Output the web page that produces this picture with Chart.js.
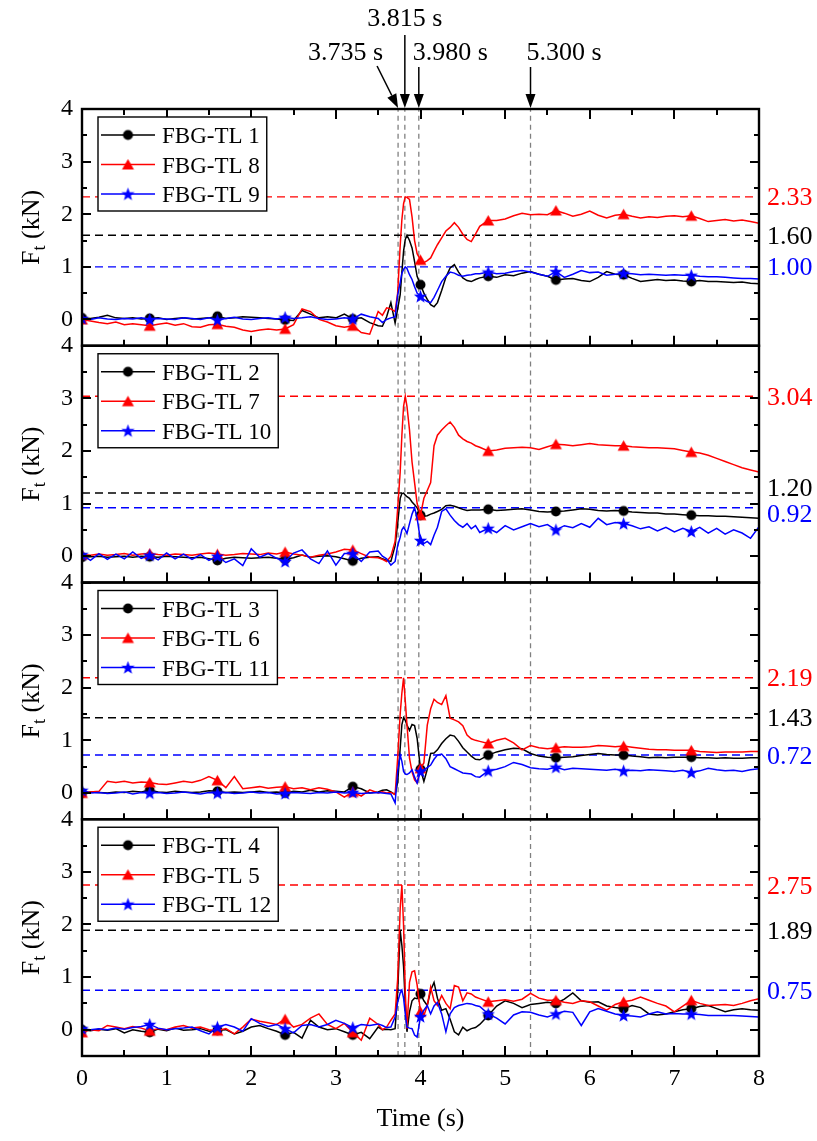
<!DOCTYPE html>
<html>
<head>
<meta charset="utf-8">
<script src="https://cdn.jsdelivr.net/npm/chart.js@4.4.1/dist/chart.umd.min.js"></script>
<style>
  html, body { margin: 0; padding: 0; background: #fff; }
  #wrap { width: 817px; height: 1141px; }
</style>
</head>
<body>
<div id="wrap"><canvas id="chart" width="817" height="1141"></canvas></div>
<script>
// time axis (s): coarse before/after the impact, finer around it
const time = [
  0.0, 0.1, 0.2, 0.3, 0.4, 0.5, 0.6, 0.7, 0.8, 0.9, 1.0, 1.1, 1.2, 1.3, 1.4, 1.5, 1.6, 1.7, 1.8, 1.9,
  2.0, 2.1, 2.2, 2.3, 2.4, 2.5, 2.6, 2.7, 2.8, 2.9, 3.0, 3.1, 3.2, 3.3, 3.4, 3.5,
  3.55, 3.6, 3.65, 3.7, 3.73, 3.76, 3.78, 3.8, 3.82, 3.84, 3.87, 3.9, 3.93, 3.96, 4.0, 4.04, 4.08, 4.12,
  4.16, 4.2, 4.25, 4.3, 4.35, 4.4, 4.45, 4.5, 4.55, 4.6, 4.65, 4.7,
  4.8, 4.9, 5.0, 5.1, 5.2, 5.3, 5.4, 5.5, 5.6, 5.7, 5.8, 5.9, 6.0, 6.1, 6.2, 6.3, 6.4, 6.5, 6.6, 6.7,
  6.8, 6.9, 7.0, 7.1, 7.2, 7.3, 7.4, 7.5, 7.6, 7.7, 7.8, 7.9, 8.0
];

// panel 1
const tl1 = [
  0.03, 0.02, 0.04, 0.08, 0.03, 0.02, 0.03, 0.01, 0.02, 0.03, 0.00, 0.02, 0.03, 0.01, 0.02, 0.03, 0.06, 0.02, 0.03, 0.05, 0.04, 0.03, 0.02, 0.01, -0.01, -0.02, 0.17, 0.10, 0.03, 0.05, 0.03, 0.10, 0.01, 0.03, -0.06, -0.12,
  -0.13, 0.05, 0.32, -0.07, 0.20, 0.47, 0.90, 1.30, 1.52, 1.60, 1.50, 1.36, 1.10, 0.82, 0.66, 0.50, 0.38, 0.28, 0.24, 0.32, 0.55, 0.80, 0.98, 1.04, 0.90, 0.79, 0.74, 0.72, 0.76, 0.79,
  0.82, 0.80, 0.85, 0.83, 0.88, 0.91, 0.86, 0.82, 0.75, 0.77, 0.78, 0.74, 0.72, 0.80, 0.91, 0.86, 0.85, 0.78, 0.72, 0.74, 0.76, 0.74, 0.75, 0.73, 0.72, 0.74, 0.72, 0.72, 0.71, 0.70, 0.71, 0.69, 0.68
];
const tl8 = [
  0.00, -0.03, -0.06, -0.08, -0.05, -0.10, -0.08, -0.10, -0.12, -0.09, -0.07, -0.11, -0.08, -0.14, -0.15, -0.10, -0.09, -0.13, -0.15, -0.20, -0.23, -0.20, -0.18, -0.20, -0.18, -0.10, 0.20, 0.15, 0.00, -0.05, -0.12, -0.15, -0.12, -0.25, -0.28, 0.15,
  0.08, 0.22, 0.20, 0.15, 0.50, 1.40, 1.90, 2.20, 2.33, 2.32, 2.28, 1.95, 1.50, 1.25, 1.13, 1.08, 1.12, 1.17, 1.30, 1.42, 1.55, 1.68, 1.75, 1.84, 1.75, 1.62, 1.52, 1.48, 1.62, 1.77,
  1.88, 1.88, 1.91, 1.97, 2.02, 1.99, 2.00, 1.99, 2.07, 2.02, 1.96, 2.00, 2.06, 1.98, 1.93, 1.98, 2.00, 1.96, 1.93, 1.95, 1.94, 1.96, 1.97, 1.95, 1.97, 1.92, 1.86, 1.88, 1.90, 1.87, 1.89, 1.86, 1.83
];
const tl9 = [
  0.02, 0.00, 0.03, 0.01, 0.00, 0.02, 0.01, 0.03, 0.00, 0.02, 0.01, 0.00, 0.03, 0.02, 0.00, 0.03, -0.01, 0.02, 0.04, 0.01, 0.00, 0.02, 0.03, 0.01, 0.04, 0.02, 0.03, 0.05, 0.02, 0.00, 0.01, 0.03, 0.01, 0.10, 0.05, 0.02,
  -0.06, 0.00, 0.03, 0.05, 0.46, 0.70, 0.88, 0.95, 1.00, 0.97, 0.85, 0.76, 0.62, 0.50, 0.44, 0.38, 0.34, 0.32, 0.42, 0.55, 0.72, 0.82, 0.90, 0.88, 0.84, 0.82, 0.84, 0.85, 0.87, 0.87,
  0.90, 0.87, 0.88, 0.91, 0.93, 0.90, 0.86, 0.82, 0.91, 0.80, 0.86, 0.93, 0.89, 0.90, 0.84, 0.86, 0.88, 0.87, 0.85, 0.86, 0.85, 0.84, 0.85, 0.84, 0.84, 0.82, 0.81, 0.81, 0.80, 0.79, 0.78, 0.78, 0.77
];

// panel 2
const tl2 = [
  -0.02, -0.01, 0.00, -0.02, -0.01, 0.00, -0.02, 0.00, -0.01, -0.02, 0.00, -0.01, -0.02, -0.03, -0.02, -0.05, -0.08, -0.04, -0.02, -0.03, -0.04, -0.03, -0.02, -0.04, -0.06, -0.03, 0.02, -0.02, 0.00, 0.01, -0.01, -0.05, -0.09, -0.04, -0.02, -0.01,
  -0.05, -0.08, -0.10, 0.20, 0.62, 1.10, 1.19, 1.20, 1.16, 1.13, 1.10, 1.03, 0.98, 0.92, 0.78, 0.76, 0.77, 0.80, 0.82, 0.85, 0.89, 0.96, 0.97, 0.95, 0.92, 0.89, 0.87, 0.88, 0.88, 0.88,
  0.89, 0.87, 0.88, 0.89, 0.90, 0.88, 0.85, 0.84, 0.85, 0.86, 0.88, 0.90, 0.89, 0.87, 0.86, 0.87, 0.86, 0.84, 0.83, 0.82, 0.82, 0.80, 0.80, 0.79, 0.78, 0.77, 0.77, 0.76, 0.76, 0.75, 0.74, 0.73, 0.72
];
const tl7 = [
  0.03, 0.02, 0.04, 0.02, 0.03, 0.05, 0.02, 0.04, 0.05, 0.03, 0.02, 0.04, 0.03, 0.02, 0.04, 0.06, 0.04, 0.02, 0.03, 0.05, 0.04, 0.03, 0.06, 0.04, 0.08, 0.04, 0.02, -0.02, 0.02, 0.04, 0.08, 0.13, 0.12, 0.05, -0.02, -0.03,
  -0.06, -0.10, 0.00, 0.28, 0.90, 1.60, 2.30, 2.85, 3.04, 2.85, 2.40, 1.79, 1.40, 1.00, 0.78, 1.10, 1.25, 1.40, 2.10, 2.30, 2.40, 2.48, 2.55, 2.45, 2.30, 2.23, 2.18, 2.15, 2.10, 2.07,
  2.00, 2.02, 2.05, 2.06, 2.07, 2.06, 2.03, 2.08, 2.13, 2.12, 2.10, 2.12, 2.14, 2.12, 2.11, 2.10, 2.10, 2.08, 2.07, 2.06, 2.06, 2.05, 2.04, 2.01, 1.98, 1.96, 1.92, 1.86, 1.80, 1.74, 1.68, 1.64, 1.60
];
const tl10 = [
  0.03, -0.08, 0.05, -0.06, 0.04, -0.05, 0.08, -0.04, 0.02, -0.07, 0.06, -0.05, 0.04, -0.06, 0.03, -0.08, 0.00, -0.12, -0.05, -0.18, 0.14, -0.02, 0.05, -0.04, -0.10, 0.06, 0.12, -0.05, -0.14, 0.10, -0.17, 0.05, 0.05, -0.10, 0.08, 0.10,
  0.00, -0.05, -0.17, -0.10, 0.20, 0.36, 0.50, 0.55, 0.50, 0.43, 0.62, 0.80, 0.92, 0.72, 0.30, 0.24, 0.28, 0.22, 0.40, 0.55, 0.85, 0.90, 0.78, 0.68, 0.60, 0.55, 0.62, 0.52, 0.58, 0.45,
  0.53, 0.45, 0.58, 0.50, 0.56, 0.62, 0.56, 0.60, 0.50, 0.58, 0.54, 0.62, 0.55, 0.72, 0.60, 0.64, 0.62, 0.58, 0.52, 0.56, 0.48, 0.55, 0.46, 0.53, 0.47, 0.55, 0.44, 0.53, 0.42, 0.50, 0.44, 0.34, 0.56
];

// panel 3
const tl3 = [
  0.00, 0.02, 0.01, 0.00, 0.02, 0.01, 0.03, 0.02, 0.05, 0.02, 0.01, 0.03, 0.02, 0.01, 0.02, 0.04, 0.03, 0.01, 0.02, 0.01, 0.02, 0.03, 0.01, 0.02, 0.00, 0.03, 0.02, 0.05, 0.02, 0.04, 0.03, 0.02, 0.12, 0.08, 0.00, 0.02,
  0.05, 0.06, 0.02, -0.03, 0.20, 0.85, 1.30, 1.43, 1.38, 1.29, 1.19, 1.30, 1.28, 1.04, 0.45, 0.22, 0.45, 0.75, 0.76, 0.82, 0.94, 1.03, 1.10, 1.08, 0.98, 0.86, 0.78, 0.70, 0.64, 0.63,
  0.72, 0.78, 0.82, 0.85, 0.84, 0.75, 0.70, 0.68, 0.67, 0.68, 0.69, 0.71, 0.73, 0.75, 0.73, 0.72, 0.72, 0.70, 0.69, 0.67, 0.68, 0.67, 0.68, 0.68, 0.68, 0.67, 0.67, 0.66, 0.67, 0.66, 0.66, 0.67, 0.67
];
const tl6 = [
  0.00, 0.02, 0.03, 0.22, 0.20, 0.22, 0.19, 0.21, 0.20, 0.17, 0.16, 0.19, 0.22, 0.20, 0.24, 0.31, 0.24, 0.10, 0.31, 0.08, 0.10, 0.12, 0.09, 0.11, 0.12, 0.08, 0.10, 0.06, 0.10, 0.07, 0.02, -0.08, 0.02, -0.06, 0.06, 0.00,
  0.02, 0.00, 0.01, -0.03, 0.66, 1.50, 1.90, 2.19, 1.75, 1.30, 0.66, 0.40, 0.25, 0.19, 0.47, 0.57, 1.29, 1.60, 1.78, 1.72, 1.68, 1.85, 1.42, 1.39, 1.35, 1.28, 1.10, 1.03, 1.00, 0.98,
  0.94, 1.00, 1.04, 0.95, 0.82, 0.90, 0.86, 0.84, 0.86, 0.88, 0.87, 0.87, 0.88, 0.90, 0.89, 0.88, 0.89, 0.87, 0.85, 0.83, 0.82, 0.82, 0.81, 0.81, 0.81, 0.79, 0.78, 0.77, 0.78, 0.78, 0.78, 0.79, 0.79
];
const tl11 = [
  0.05, 0.00, 0.01, -0.01, 0.00, 0.02, -0.02, 0.01, 0.00, 0.01, -0.01, 0.00, 0.02, 0.00, -0.02, 0.01, 0.00, 0.01, -0.01, 0.00, 0.02, 0.00, 0.01, -0.02, -0.01, 0.01, 0.00, -0.01, 0.01, 0.00, 0.02, 0.00, 0.01, -0.01, 0.00, 0.01,
  0.00, -0.01, -0.02, -0.19, 0.41, 0.72, 0.60, 0.41, 0.36, 0.35, 0.38, 0.44, 0.30, 0.19, 0.41, 0.44, 0.48, 0.53, 0.64, 0.72, 0.74, 0.65, 0.50, 0.46, 0.42, 0.38, 0.37, 0.36, 0.31, 0.30,
  0.42, 0.45, 0.50, 0.58, 0.54, 0.48, 0.46, 0.45, 0.49, 0.44, 0.47, 0.46, 0.45, 0.44, 0.43, 0.45, 0.42, 0.43, 0.42, 0.44, 0.43, 0.42, 0.41, 0.43, 0.39, 0.42, 0.47, 0.44, 0.42, 0.43, 0.41, 0.44, 0.46
];

// panel 4
const tl4 = [
  0.00, -0.02, 0.01, -0.01, 0.02, -0.06, 0.00, -0.03, -0.05, 0.01, -0.02, 0.03, -0.01, 0.00, 0.02, -0.03, -0.01, 0.00, -0.08, -0.03, 0.05, 0.08, 0.02, -0.03, -0.10, -0.05, -0.16, 0.18, 0.05, 0.00, 0.02, -0.04, -0.10, -0.05, -0.17, 0.05,
  0.00, 0.01, 0.00, 0.02, 0.71, 1.89, 1.60, 1.20, 0.50, -0.04, 0.34, 0.55, 0.60, 0.59, 0.68, 0.55, 0.46, 0.75, 0.90, 0.60, 0.37, 0.40, 0.20, -0.04, -0.10, 0.05, -0.02, 0.02, 0.04, 0.10,
  0.27, 0.45, 0.55, 0.50, 0.42, 0.48, 0.50, 0.52, 0.50, 0.58, 0.70, 0.55, 0.52, 0.53, 0.45, 0.42, 0.40, 0.46, 0.42, 0.30, 0.28, 0.30, 0.34, 0.38, 0.40, 0.44, 0.46, 0.40, 0.34, 0.38, 0.40, 0.38, 0.37
];
const tl5 = [
  -0.05, 0.00, -0.02, 0.08, 0.05, 0.02, 0.06, 0.03, -0.02, 0.02, 0.00, 0.05, 0.08, 0.03, 0.05, 0.00, -0.02, 0.02, -0.08, 0.05, 0.20, 0.16, 0.13, 0.10, 0.20, 0.05, 0.10, 0.22, 0.30, 0.10, 0.02, 0.12, -0.05, -0.20, 0.22, 0.10,
  0.00, 0.05, 0.18, 0.30, 0.96, 2.30, 2.75, 1.98, 0.70, 0.02, 0.90, 1.10, 1.12, 0.85, 0.34, 0.27, 0.46, 0.81, 0.55, 0.46, 0.65, 0.50, 0.40, 0.84, 0.81, 0.55, 0.70, 0.68, 0.62, 0.59,
  0.53, 0.55, 0.57, 0.54, 0.58, 0.69, 0.60, 0.56, 0.56, 0.52, 0.50, 0.55, 0.53, 0.45, 0.37, 0.48, 0.53, 0.56, 0.62, 0.56, 0.50, 0.45, 0.34, 0.45, 0.56, 0.50, 0.46, 0.47, 0.48, 0.46, 0.50, 0.55, 0.59
];
const tl12 = [
  0.02, 0.00, 0.02, 0.00, 0.03, 0.01, 0.04, 0.06, 0.10, 0.03, 0.00, 0.02, 0.03, 0.05, -0.02, -0.08, 0.05, 0.10, 0.05, -0.03, 0.21, 0.12, 0.06, 0.10, 0.02, -0.06, 0.08, 0.10, 0.05, 0.10, 0.18, 0.12, 0.04, 0.10, 0.08, 0.11,
  0.08, 0.04, 0.05, 0.24, 0.52, 0.70, 0.75, 0.60, 0.30, 0.05, 0.03, 0.02, -0.10, -0.14, 0.25, 0.37, 0.46, 0.30, 0.45, 0.52, 0.30, -0.04, 0.30, 0.42, 0.46, 0.48, 0.50, 0.49, 0.46, 0.44,
  0.30, 0.22, 0.11, 0.28, 0.34, 0.33, 0.28, 0.24, 0.30, 0.35, 0.33, 0.08, 0.34, 0.40, 0.35, 0.30, 0.27, 0.26, 0.24, 0.30, 0.34, 0.30, 0.31, 0.30, 0.30, 0.29, 0.27, 0.27, 0.27, 0.27, 0.26, 0.25, 0.24
];

const panelSeries = [[tl1, tl8, tl9], [tl2, tl7, tl10], [tl3, tl6, tl11], [tl4, tl5, tl12]];
const panelNames = [
  ['FBG-TL 1', 'FBG-TL 8', 'FBG-TL 9'],
  ['FBG-TL 2', 'FBG-TL 7', 'FBG-TL 10'],
  ['FBG-TL 3', 'FBG-TL 6', 'FBG-TL 11'],
  ['FBG-TL 4', 'FBG-TL 5', 'FBG-TL 12']
];
const peakValues = [[1.60, 2.33, 1.00], [1.20, 3.04, 0.92], [1.43, 2.19, 0.72], [1.89, 2.75, 0.75]];
const eventTimes = [3.735, 3.815, 3.980, 5.300];
const markerEvery = 0.8;

const FONT = "'Liberation Serif', 'Times New Roman', serif";
const colors = ['#000000', '#ff0000', '#0000ff'];

function makeMarker(kind, color) {
  const c = document.createElement('canvas');
  c.width = 15; c.height = 15;
  const g = c.getContext('2d');
  const cx = 7.5, cy = 7.5;
  g.fillStyle = color;
  g.beginPath();
  if (kind === 'circle') {
    g.arc(cx, cy, 5, 0, Math.PI * 2);
  } else if (kind === 'triangle') {
    g.moveTo(cx, 2); g.lineTo(cx + 6, 12.5); g.lineTo(cx - 6, 12.5); g.closePath();
  } else {
    for (let i = 0; i < 10; i++) {
      const r = i % 2 === 0 ? 7 : 2.9;
      const a = -Math.PI / 2 + i * Math.PI / 5;
      g.lineTo(cx + r * Math.cos(a), cy + 0.5 + r * Math.sin(a));
    }
    g.closePath();
  }
  g.fill();
  return c;
}
const markers = [makeMarker('circle', colors[0]), makeMarker('triangle', colors[1]), makeMarker('star', colors[2])];

function isMarkerTime(t) {
  const k = t / markerEvery;
  return t < 7.9 && Math.abs(k - Math.round(k)) < 1e-6;
}

const datasets = [];
panelSeries.forEach((group, p) => {
  const axis = 'y' + (p + 1);
  eventTimes.forEach(t => {
    datasets.push({
      data: [{ x: t, y: -0.5 }, { x: t, y: 4 }],
      yAxisID: axis, borderColor: '#808080', borderWidth: 1.3, borderDash: [5, 4],
      pointRadius: 0, order: 20
    });
  });
  group.forEach((vals, k) => {
    datasets.push({
      data: [{ x: 0, y: peakValues[p][k] }, { x: 8, y: peakValues[p][k] }],
      yAxisID: axis, borderColor: colors[k], borderWidth: 1.4, borderDash: [8, 5],
      pointRadius: 0, order: 10
    });
    datasets.push({
      label: panelNames[p][k],
      data: vals.map((v, i) => ({ x: time[i], y: v })),
      yAxisID: axis, borderColor: colors[k], borderWidth: 1.5,
      pointStyle: markers[k],
      pointRadius: ctx => isMarkerTime(time[ctx.dataIndex]) ? 5 : 0,
      order: 3 - k
    });
  });
});

function yScale(weight) {
  return {
    type: 'linear', position: 'left', stack: 'panels', stackWeight: 1, weight: weight,
    min: -0.5, max: 4,
    ticks: {
      stepSize: 0.5, autoSkip: false, padding: 9, color: '#000',
      font: { family: FONT, size: 24 },
      callback: v => Math.abs(v - Math.round(v)) < 1e-6 ? String(Math.round(v)) : ''
    },
    grid: { display: false, drawTicks: false },
    border: { display: false },
    afterFit: s => { s.width = 40; }
  };
}

function arrow(ctx, x1, y1, x2, y2) {
  const ang = Math.atan2(y2 - y1, x2 - x1), len = 14, hw = 5;
  const bx = x2 - len * Math.cos(ang), by = y2 - len * Math.sin(ang);
  ctx.beginPath(); ctx.moveTo(x1, y1); ctx.lineTo(bx, by); ctx.stroke();
  ctx.beginPath();
  ctx.moveTo(x2, y2);
  ctx.lineTo(bx + hw * Math.sin(ang), by - hw * Math.cos(ang));
  ctx.lineTo(bx - hw * Math.sin(ang), by + hw * Math.cos(ang));
  ctx.closePath(); ctx.fill();
}

const decorations = {
  id: 'decorations',
  afterDraw(chart) {
    const { ctx, chartArea: area, scales } = chart;
    const xs = scales.x;
    ctx.save();
    ctx.setLineDash([]);
    panelSeries.forEach((group, p) => {
      const ys = scales['y' + (p + 1)];
      const top = ys.top, bottom = ys.bottom;

      // inward ticks on every side of the panel
      ctx.fillStyle = '#000';
      for (let k = 0; k <= 16; k++) {
        const px = Math.round(xs.getPixelForValue(k / 2));
        const len = k % 2 === 0 ? 10 : 6;
        ctx.fillRect(px - 1, bottom - len, 2, len);
        if (p === 0) ctx.fillRect(px - 1, top, 2, len);
      }
      for (let k = 0; k <= 9; k++) {
        const v = -0.5 + k * 0.5;
        const py = Math.round(ys.getPixelForValue(v));
        const len = k % 2 === 1 ? 9 : 5;
        ctx.fillRect(area.left, py - 1, len, 2);
        ctx.fillRect(area.right - len, py - 1, len, 2);
      }

      // frame
      ctx.strokeStyle = '#000';
      ctx.lineWidth = 2.4;
      ctx.strokeRect(area.left, top, area.right - area.left, bottom - top);

      // legend
      ctx.font = `23px ${FONT}`;
      const names = panelNames[p];
      const boxX = area.left + 16, boxY = top + 8, textX = boxX + 64;
      const w = Math.max(...names.map(n => ctx.measureText(n).width));
      const boxW = textX - boxX + w + 7, boxH = 94;
      ctx.fillStyle = '#fff';
      ctx.fillRect(boxX, boxY, boxW, boxH);
      ctx.lineWidth = 1.4;
      ctx.strokeStyle = '#000';
      ctx.strokeRect(boxX, boxY, boxW, boxH);
      names.forEach((n, k) => {
        const ry = boxY + 18 + k * 29.5;
        ctx.strokeStyle = colors[k];
        ctx.lineWidth = 1.5;
        ctx.beginPath(); ctx.moveTo(boxX + 3, ry); ctx.lineTo(boxX + 57, ry); ctx.stroke();
        const m = markers[k];
        ctx.drawImage(m, boxX + 30 - m.width / 2, ry - m.height / 2);
        ctx.fillStyle = '#000';
        ctx.textAlign = 'left';
        ctx.textBaseline = 'alphabetic';
        ctx.fillText(n, textX, ry + 8);
      });

      // peak labels on the right
      ctx.font = `26px ${FONT}`;
      const labs = peakValues[p].map((v, k) => ({ y: ys.getPixelForValue(v), text: v.toFixed(2), color: colors[k] }))
        .sort((a, b) => a.y - b.y);
      for (let i = 1; i < labs.length; i++) {
        const gap = labs[i].y - labs[i - 1].y;
        if (gap < 26) { const d = (26 - gap) / 2; labs[i - 1].y -= d; labs[i].y += d; }
      }
      labs.forEach(l => {
        ctx.fillStyle = l.color;
        ctx.fillText(l.text, area.right + 8, l.y + 8.5);
      });

      // y title F_t (kN)
      ctx.save();
      ctx.translate(32, (top + bottom) / 2);
      ctx.rotate(-Math.PI / 2);
      ctx.fillStyle = '#000';
      ctx.font = `26px ${FONT}`;
      const wF = ctx.measureText('F').width, wRest = ctx.measureText(' (kN)').width;
      ctx.font = `18px ${FONT}`;
      const wt = ctx.measureText('t').width;
      const x0 = -(wF + wt + wRest) / 2;
      ctx.font = `26px ${FONT}`;
      ctx.fillText('F', x0, 7);
      ctx.fillText(' (kN)', x0 + wF + wt, 7);
      ctx.font = `18px ${FONT}`;
      ctx.fillText('t', x0 + wF, 13);
      ctx.restore();
    });

    // event arrows above the top panel
    ctx.font = `26px ${FONT}`;
    ctx.fillStyle = '#000';
    ctx.strokeStyle = '#000';
    ctx.lineWidth = 1.5;
    const tipY = area.top - 1;
    eventTimes.forEach((t, i) => {
      const px = xs.getPixelForValue(t);
      const text = t.toFixed(3) + ' s';
      if (i === 0) {
        ctx.textAlign = 'right';
        ctx.fillText(text, px - 15, 60);
        arrow(ctx, px - 21, 66, px, tipY);
      } else if (i === 1) {
        ctx.textAlign = 'center';
        ctx.fillText(text, px, 26);
        arrow(ctx, px, 35, px, tipY);
      } else {
        ctx.textAlign = 'left';
        ctx.fillText(text, px - (i === 2 ? 6 : 4), 60);
        arrow(ctx, px, 67, px, tipY);
      }
    });
    ctx.restore();
  }
};

new Chart(document.getElementById('chart').getContext('2d'), {
  type: 'line',
  data: { datasets: datasets },
  options: {
    responsive: false,
    animation: false,
    devicePixelRatio: 1,
    layout: { padding: { top: 109, left: 42, right: 58, bottom: 1 } },
    elements: { line: { tension: 0, fill: false }, point: { radius: 0 } },
    plugins: { legend: { display: false }, tooltip: { enabled: false } },
    scales: {
      x: {
        type: 'linear', min: 0, max: 8,
        ticks: { stepSize: 1, padding: 8, color: '#000', font: { family: FONT, size: 24 } },
        grid: { display: false, drawTicks: false },
        border: { display: false },
        title: { display: true, text: 'Time (s)', color: '#000', font: { family: FONT, size: 26 }, padding: { top: 0, bottom: 5 } },
        afterFit: s => { s.height = 84; }
      },
      y1: yScale(4),
      y2: yScale(3),
      y3: yScale(2),
      y4: yScale(1)
    }
  },
  plugins: [decorations]
});
</script>
</body>
</html>
